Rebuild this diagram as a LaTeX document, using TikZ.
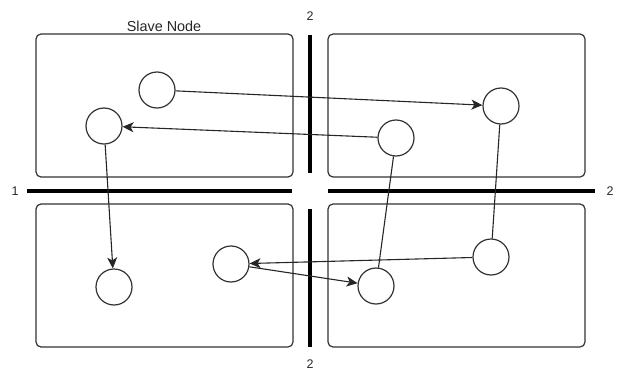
\documentclass[tikz,border=0pt]{standalone}
\usepackage{fontspec}
\setmainfont{Liberation Sans}
\usetikzlibrary{arrows.meta}
\begin{document}
\begin{tikzpicture}[x=1pt,y=-1pt,
  slavebox/.style={draw=black!80,line width=1.2pt,rounded corners=5pt},
  proc/.style={circle,draw=black!80,line width=1.2pt,minimum size=36pt,inner sep=0pt},
  link/.style={draw=black!85,line width=1.1pt},
  msg/.style={link,-{Stealth[length=11pt,width=10pt,inset=3pt]}},
  divider/.style={line width=3.6pt,black},
  lbl/.style={font=\fontsize{12.5}{14}\selectfont,text=black!85,inner sep=0pt}]
  \useasboundingbox (0,0) rectangle (619,372);

  % four slave node regions
  \draw[slavebox] (36,34) rectangle (293,177);
  \draw[slavebox] (328,34) rectangle (585,177);
  \draw[slavebox] (36,204) rectangle (293,347);
  \draw[slavebox] (328,204) rectangle (585,347);
  \node[font=\fontsize{14.4}{16}\selectfont,text=black!85,inner sep=0pt] (title) at (164,26) {Slave Node};

  % partition lines
  \draw[divider] (27,191) -- (292,191);
  \draw[divider] (328,191) -- (595,191);
  \draw[divider] (310,35) -- (310,173);
  \draw[divider] (310,209) -- (310,347);
  \node[lbl] (l1) at (15,191) {1};
  \node[lbl] (l2r) at (610,191) {2};
  \node[lbl] (l2t) at (310,16) {2};
  \node[lbl] (l2b) at (310,364) {2};

  % processes
  \node[proc] (c1) at (157,90) {};
  \node[proc] (c2) at (104,126) {};
  \node[proc] (c3) at (501,106) {};
  \node[proc] (c4) at (396,138) {};
  \node[proc] (c5) at (114,287) {};
  \node[proc] (c6) at (231,264) {};
  \node[proc] (c7) at (376,286) {};
  \node[proc] (c8) at (491,257) {};

  % connections
  \draw[msg] (c1) -- (c3);
  \draw[msg] (c4) -- (c2);
  \draw[msg] (c2) -- (c5);
  \draw[link] (c3) -- (c8);
  \draw[msg] (c8) -- (c6);
  \draw[msg] (c6) -- (c7);
  \draw[link] (c4) -- (c7);
\end{tikzpicture}
\end{document}
